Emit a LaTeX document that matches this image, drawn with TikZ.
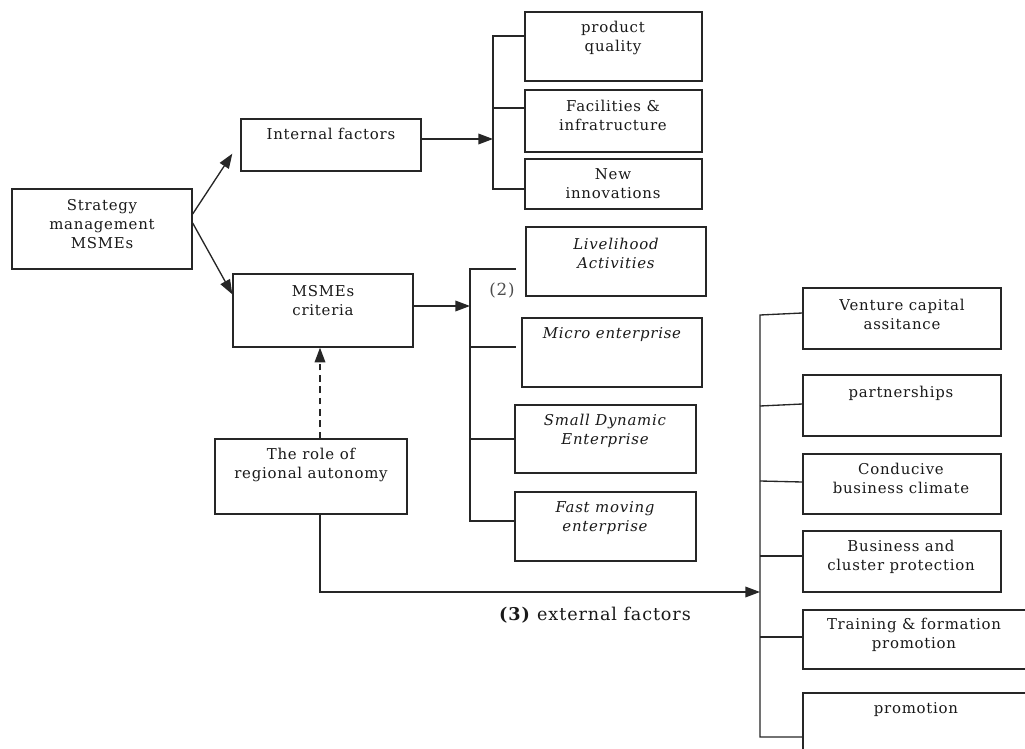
\documentclass[tikz,border=0pt]{standalone}
\usepackage{fontspec}
\setmainfont{DejaVu Serif}[LetterSpace=5]
\usetikzlibrary{arrows.meta,fit}
\begin{document}
\begin{tikzpicture}[x=0.75pt,y=-0.75pt,
  ln/.style={draw=black!85, line width=1pt},
  bx/.style={ln, rectangle, inner sep=0pt, fit={#1}},
  tx/.style={align=center, inner sep=0pt, font=\fontsize{11.2}{14.25}\selectfont, text=black!90},
  it/.style={tx, font=\fontsize{11.2}{14.25}\selectfont\itshape},
  arr/.style={ln, -{Triangle[length=11pt,width=8pt]}},
]
\useasboundingbox (0,0) rectangle (1025,749);
\clip (0,0) rectangle (1025,749);

% boxes
\node[bx={(12,189) (192,269)}] (sm) {};
\node[bx={(241,119) (421,171)}] (inf) {};
\node[bx={(233,274) (413,347)}] (crit) {};
\node[bx={(215,439) (407,514)}] (role) {};
\node[bx={(525,12) (702,81)}] (pq) {};
\node[bx={(525,90) (702,152)}] (fac) {};
\node[bx={(525,159) (702,209)}] (inn) {};
\node[bx={(526,227) (706,296)}] (liv) {};
\node[bx={(522,318) (702,387)}] (mic) {};
\node[bx={(515,405) (696,473)}] (sde) {};
\node[bx={(515,492) (696,561)}] (fme) {};
\node[bx={(803,288) (1001,349)}] (ven) {};
\node[bx={(803,375) (1001,436)}] (par) {};
\node[bx={(803,454) (1001,514)}] (con) {};
\node[bx={(803,531) (1001,592)}] (bus) {};
\node[bx={(803,610) (1035,669)}] (tra) {};
\node[bx={(803,693) (1035,765)}] (pro) {};

% texts
\node[tx] (smt) at (102,224) {Strategy\\management\\MSMEs};
\node[tx] (inft) at (331,134) {Internal factors};
\node[tx] (critt) at (323,300.5) {MSMEs\\criteria};
\node[tx] (rolet) at (311,464.5) {The role of\\regional autonomy};
\node[tx] (pqt) at (613,37.5) {product\\quality};
\node[tx] (fact) at (613,115.5) {Facilities \&\\infratructure};
\node[tx] (innt) at (613,183.5) {New\\innovations};
\node[it] (livt) at (616,253) {Livelihood\\Activities};
\node[it] (mict) at (612,335) {Micro enterprise};
\node[it] (sdet) at (605,431) {Small Dynamic\\Enterprise};
\node[it] (fmet) at (605,518) {Fast moving\\enterprise};
\node[tx] (vent) at (902,314.5) {Venture capital\\assitance};
\node[tx] (part) at (901,393) {partnerships};
\node[tx] (cont) at (901,478.5) {Conducive\\business climate};
\node[tx] (bust) at (901,556.5) {Business and\\cluster protection};
\node[tx] (trat) at (914,634.5) {Training \& formation\\promotion};
\node[tx] (prot) at (916,710) {promotion};
\node[tx, text=black!70, font=\fontsize{12.5}{14}\selectfont] (two) at (502,290) {(2)};
\node[tx, font=\fontsize{13.2}{15}\selectfont] (ext) at (595,615) {\textbf{(3)} external factors};

% bracket coordinates
\coordinate (b1t) at (493,36);
\coordinate (b1m) at (493,139);
\coordinate (b1b) at (493,189);
\coordinate (b2t) at (470,269);
\coordinate (b2m) at (470,306);
\coordinate (b2b) at (470,521);
\coordinate (b3t) at (760,315);
\coordinate (b3m) at (760,592);
\coordinate (b3b) at (760,737);
\coordinate (elb) at (320,592);

% arrows from strategy
\draw[arr] ([yshift=11.25pt]sm.east) -- ([xshift=-6pt,yshift=13.5pt]inf.south west);
\draw[arr] ([yshift=4.5pt]sm.east) -- ([yshift=-15.75pt]crit.north west);

% internal bracket
\draw[arr] (inf.east |- b1m) -- (b1m);
\draw[ln] (pq.west |- b1t) -- (b1t) -- (b1b) -- (inn.west |- b1b);
\draw[ln] (b1t |- 0,108) -- (fac.west |- 0,108);

% criteria bracket
\draw[arr] (crit.east |- b2m) -- (b2m);
\draw[ln] (516,269) -- (b2t) -- (b2b) -- (fme.west |- b2b);
\draw[ln] (b2t |- 0,347) -- (516,347);
\draw[ln] (b2t |- 0,439) -- (sde.west |- 0,439);

% dashed arrow
\draw[arr, dash pattern=on 5pt off 3.5pt] (elb |- role.north) -- (elb |- crit.south);

% external
\draw[arr] (elb |- role.south) -- (elb) -- (b3m);
\draw[ln] (ven.west |- 0,313) -- (b3t) -- (b3b) -- (pro.west |- b3b);
\draw[ln] (b3t |- 0,406) -- (par.west |- 0,404);
\draw[ln] (b3t |- 0,481) -- (con.west |- 0,482);
\draw[ln] (b3t |- 0,556) -- (bus.west |- 0,556);
\draw[ln] (b3t |- 0,637) -- (tra.west |- 0,637);
\end{tikzpicture}
\end{document}
